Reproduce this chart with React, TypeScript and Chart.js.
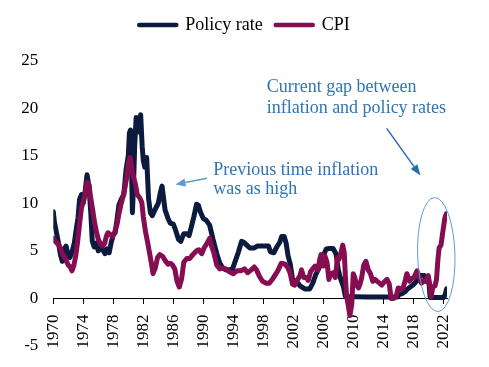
import React, { useEffect, useRef } from 'react';
import { Chart, registerables } from 'chart.js';

Chart.register(...registerables);

// ---------- data ----------
const policyYears = [
  1970.0, 1970.15, 1970.4, 1970.7, 1970.95, 1971.2, 1971.45, 1971.7, 1971.95, 1972.2,
  1972.5, 1972.8, 1973.05, 1973.3, 1973.5, 1973.75, 1974.0, 1974.25, 1974.5, 1974.75,
  1975.0, 1975.2, 1975.45, 1975.75, 1976.0, 1976.3, 1976.6, 1976.9, 1977.15, 1977.45,
  1977.7, 1978.0, 1978.25, 1978.5, 1978.75, 1979.05, 1979.4, 1979.7, 1980.0, 1980.15,
  1980.3, 1980.45, 1980.55, 1980.7, 1980.85, 1981.05, 1981.25, 1981.45, 1981.65, 1981.85,
  1982.0, 1982.2, 1982.45, 1982.7, 1982.95, 1983.2, 1983.55, 1984.0, 1984.3, 1984.5,
  1984.9, 1985.3, 1985.6, 1986.0, 1986.3, 1986.7, 1987.0, 1987.4, 1987.8, 1988.1,
  1988.4, 1988.75, 1989.1, 1989.35, 1989.6, 1990.0, 1990.4, 1990.85, 1991.3, 1991.8,
  1992.2, 1992.6, 1993.0, 1993.5, 1993.9, 1994.3, 1994.7, 1995.1, 1995.4, 1995.8,
  1996.2, 1996.8, 1997.2, 1997.6, 1998.2, 1998.7, 1998.95, 1999.4, 1999.8, 2000.2,
  2000.45, 2000.8, 2001.05, 2001.3, 2001.6, 2001.9, 2002.5, 2002.95, 2003.55, 2004.2,
  2004.6, 2005.0, 2005.5, 2005.9, 2006.4, 2006.8, 2007.3, 2007.7, 2008.0, 2008.3,
  2008.7, 2008.95, 2012.0, 2015.9, 2016.1, 2016.5, 2016.9, 2017.25, 2017.6, 2017.95,
  2018.3, 2018.7, 2019.0, 2019.5, 2019.8, 2020.1, 2020.25, 2022.05, 2022.25, 2022.45,
];
const policyRate = [
  9.1, 8.0, 7.0, 5.8, 4.6, 3.9, 5.2, 5.5, 4.6, 4.3,
  4.9, 5.8, 7.2, 8.5, 10.4, 10.9, 10.0, 11.3, 13.0, 11.8,
  9.0, 6.0, 5.4, 5.8, 5.0, 5.3, 5.1, 4.7, 5.2, 4.8,
  5.8, 6.7, 6.9, 8.3, 9.8, 10.4, 10.9, 13.5, 15.0, 17.4,
  17.7, 13.0, 9.0, 12.0, 16.0, 19.0, 18.2, 17.5, 19.3, 16.0,
  14.5, 13.8, 14.8, 10.5, 9.0, 8.7, 9.3, 10.0, 11.2, 11.8,
  9.3, 8.4, 7.9, 7.8, 7.2, 6.2, 6.0, 6.8, 6.8, 6.6,
  7.5, 8.6, 9.9, 9.8, 9.1, 8.4, 8.2, 7.7, 6.2, 4.7,
  3.7, 3.2, 3.0, 3.0, 3.1, 4.0, 4.9, 6.0, 5.9, 5.6,
  5.3, 5.3, 5.5, 5.5, 5.5, 5.5, 4.9, 4.8, 5.4, 5.9,
  6.5, 6.5, 5.8, 4.5, 3.6, 2.0, 1.7, 1.3, 1.0, 1.0,
  1.6, 2.5, 3.3, 4.3, 5.2, 5.25, 5.25, 4.7, 3.0, 2.1,
  1.2, 0.2, 0.15, 0.15, 0.4, 0.5, 0.7, 1.0, 1.2, 1.4,
  1.7, 2.0, 2.4, 2.4, 1.8, 1.6, 0.1, 0.1, 0.4, 1.0,
];

const cpiYears = [
  1970.0, 1970.25, 1970.5, 1970.75, 1971.0, 1971.25, 1971.5, 1971.75, 1972.0, 1972.25,
  1972.5, 1972.75, 1973.0, 1973.25, 1973.5, 1973.75, 1974.0, 1974.25, 1974.5, 1974.75,
  1975.0, 1975.25, 1975.5, 1975.75, 1976.0, 1976.3, 1976.6, 1976.85, 1977.1, 1977.3,
  1977.6, 1977.9, 1978.2, 1978.5, 1978.75, 1979.0, 1979.3, 1979.55, 1979.8, 1980.05,
  1980.25, 1980.5, 1980.75, 1980.95, 1981.2, 1981.5, 1981.8, 1982.0, 1982.3, 1982.6,
  1982.9, 1983.1, 1983.3, 1983.6, 1983.9, 1984.2, 1984.6, 1984.9, 1985.3, 1985.6,
  1985.9, 1986.2, 1986.5, 1986.8, 1987.1, 1987.4, 1987.8, 1988.2, 1988.6, 1989.1,
  1989.4, 1989.8, 1990.1, 1990.5, 1990.85, 1991.1, 1991.4, 1991.8, 1992.2, 1992.6,
  1993.0, 1993.5, 1994.0, 1994.5, 1995.0, 1995.5, 1995.9, 1996.4, 1996.8, 1997.1,
  1997.5, 1997.9, 1998.4, 1998.8, 1999.3, 1999.7, 2000.0, 2000.4, 2000.9, 2001.3,
  2001.6, 2001.9, 2002.2, 2002.6, 2002.9, 2003.1, 2003.4, 2003.7, 2004.0, 2004.3,
  2004.6, 2004.9, 2005.3, 2005.5, 2005.7, 2006.0, 2006.2, 2006.5, 2006.75, 2007.0,
  2007.3, 2007.6, 2007.9, 2008.1, 2008.4, 2008.6, 2008.8, 2008.95, 2009.1, 2009.3,
  2009.55, 2009.8, 2010.0, 2010.2, 2010.45, 2010.7, 2010.9, 2011.1, 2011.4, 2011.7,
  2012.0, 2012.3, 2012.6, 2012.9, 2013.2, 2013.5, 2013.8, 2014.2, 2014.5, 2014.8,
  2015.05, 2015.4, 2015.7, 2016.0, 2016.3, 2016.6, 2016.9, 2017.15, 2017.5, 2017.8,
  2018.1, 2018.5, 2018.8, 2019.1, 2019.4, 2019.7, 2020.0, 2020.2, 2020.4, 2020.6,
  2020.9, 2021.1, 2021.3, 2021.45, 2021.7, 2021.85, 2022.0, 2022.2, 2022.4,
];
const cpiRate = [
  6.3, 6.0, 5.8, 5.6, 5.2, 4.6, 4.4, 3.9, 3.5, 3.3,
  2.9, 3.5, 4.5, 6.0, 7.8, 9.5, 10.2, 11.0, 12.2, 12.0,
  10.5, 9.3, 8.0, 7.0, 6.2, 5.7, 5.5, 5.8, 6.6, 6.9,
  6.7, 6.5, 7.0, 7.8, 8.9, 9.8, 10.7, 11.6, 12.8, 14.3,
  14.8, 13.4, 12.6, 12.0, 10.9, 10.6, 10.1, 8.6, 7.0, 5.8,
  4.5, 3.6, 2.6, 3.2, 4.3, 4.6, 4.4, 4.0, 3.6, 3.7,
  3.5, 3.1, 1.8, 1.2, 2.0, 3.8, 4.2, 4.2, 4.6, 5.0,
  5.1, 4.7, 5.3, 5.8, 6.3, 5.5, 4.8, 3.5, 3.1, 3.2,
  3.1, 2.8, 2.6, 2.9, 2.9, 3.1, 2.7, 3.0, 3.3, 3.0,
  2.3, 1.8, 1.6, 1.6, 2.1, 2.6, 3.0, 3.7, 3.6, 3.2,
  2.6, 1.5, 1.4, 2.0, 2.4, 3.0, 2.2, 2.2, 1.9, 2.8,
  3.1, 3.4, 3.0, 4.0, 4.6, 3.4, 4.5, 3.8, 2.0, 2.6,
  2.7, 2.2, 4.3, 4.1, 4.9, 5.6, 4.8, 2.3, 0.3, -0.6,
  -1.8, -0.6, 2.6, 2.2, 1.4, 1.1, 1.5, 2.1, 3.5, 3.9,
  3.0, 2.6, 1.8, 2.0, 1.8, 1.6, 1.4, 1.8, 2.0, 1.5,
  0.0, 0.0, 0.2, 1.1, 1.0, 1.0, 1.8, 2.6, 1.8, 2.1,
  2.2, 2.9, 2.3, 1.6, 1.8, 1.8, 2.4, 1.5, 0.2, 1.2,
  1.3, 2.0, 4.2, 5.3, 5.6, 6.5, 7.3, 8.4, 8.9,
];

const xTickYears = [1970, 1974, 1978, 1982, 1986, 1990, 1994, 1998, 2002, 2006, 2010, 2014, 2018, 2022];
const seriesLabels = ['Policy rate', 'CPI'];
const gapNoteLines = ['Current gap between', 'inflation and policy rates'];
const prevNoteLines = ['Previous time inflation', 'was as high'];

// ---------- styles ----------
const FONT = "'Liberation Serif', 'Times New Roman', serif";
const policyColor = '#0c1a3d';
const cpiColor = '#870d52';
const noteColor = '#2e75b6';
const lightArrowColor = '#5b9bd5';
const darkArrowColor = '#2a6ab2';
const ellipseColor = '#5b9bd5';
const LINE_W = 5;

// annotation anchors in data units (year, value)
const gapNote = { x: 1998.45, y: 21.64, gap: 20.6 };
const prevNote = { x: 1991.33, y: 12.97, gap: 19.2 };
const gapArrow = { x1: 2014.45, y1: 17.87, x2: 2018.96, y2: 12.91 };
const prevArrow = { x1: 1990.49, y1: 12.63, x2: 1986.29, y2: 11.97 };
const gapEllipse = { x: 2021.07, y: 4.61, rx: 2.49, ry: 5.99 };

function drawArrow(ctx: CanvasRenderingContext2D, x1: number, y1: number, x2: number, y2: number,
  color: string, width: number, headLen: number, headWidth: number) {
  const ang = Math.atan2(y2 - y1, x2 - x1);
  const bx = x2 - headLen * Math.cos(ang);
  const by = y2 - headLen * Math.sin(ang);
  ctx.strokeStyle = color;
  ctx.lineWidth = width;
  ctx.beginPath();
  ctx.moveTo(x1, y1);
  ctx.lineTo(bx, by);
  ctx.stroke();
  ctx.fillStyle = color;
  ctx.beginPath();
  ctx.moveTo(x2, y2);
  ctx.lineTo(bx + (headWidth / 2) * Math.sin(ang), by - (headWidth / 2) * Math.cos(ang));
  ctx.lineTo(bx - (headWidth / 2) * Math.sin(ang), by + (headWidth / 2) * Math.cos(ang));
  ctx.closePath();
  ctx.fill();
}

const notesPlugin = {
  id: 'notes',
  afterDraw(chart: any) {
    const { ctx } = chart;
    const xs = chart.scales.x;
    const ys = chart.scales.y;
    ctx.save();
    ctx.font = `18px ${FONT}`;
    ctx.fillStyle = noteColor;
    ctx.textAlign = 'left';
    ctx.textBaseline = 'alphabetic';
    gapNoteLines.forEach((t, i) => {
      ctx.fillText(t, xs.getPixelForValue(gapNote.x), ys.getPixelForValue(gapNote.y) + i * gapNote.gap);
    });
    prevNoteLines.forEach((t, i) => {
      ctx.fillText(t, xs.getPixelForValue(prevNote.x), ys.getPixelForValue(prevNote.y) + i * prevNote.gap);
    });
    drawArrow(ctx,
      xs.getPixelForValue(gapArrow.x1), ys.getPixelForValue(gapArrow.y1),
      xs.getPixelForValue(gapArrow.x2), ys.getPixelForValue(gapArrow.y2),
      darkArrowColor, 1.5, 11, 8);
    drawArrow(ctx,
      xs.getPixelForValue(prevArrow.x1), ys.getPixelForValue(prevArrow.y1),
      xs.getPixelForValue(prevArrow.x2), ys.getPixelForValue(prevArrow.y2),
      lightArrowColor, 1.5, 10, 8);
    const cx = xs.getPixelForValue(gapEllipse.x);
    const cy = ys.getPixelForValue(gapEllipse.y);
    const rx = Math.abs(xs.getPixelForValue(gapEllipse.x + gapEllipse.rx) - cx);
    const ry = Math.abs(ys.getPixelForValue(gapEllipse.y + gapEllipse.ry) - cy);
    ctx.strokeStyle = ellipseColor;
    ctx.lineWidth = 1;
    ctx.beginPath();
    ctx.ellipse(cx, cy, rx, ry, -0.03, 0, Math.PI * 2);
    ctx.stroke();
    ctx.restore();
  },
};

// adds room under the legend row and nudges the row down a little
const legendGapPlugin = {
  id: 'legendGap',
  afterInit(chart: any) {
    const lg = chart.legend;
    if (!lg) return;
    const fit = lg.fit.bind(lg);
    lg.fit = () => {
      fit();
      lg.height += 19.5;
    };
  },
  afterLayout(chart: any) {
    if (chart.legend) chart.legend.top += 3;
  },
};

export default function App() {
  const ref = useRef<HTMLCanvasElement>(null);

  useEffect(() => {
    const canvas = ref.current;
    if (!canvas) return;
    Chart.defaults.font.family = FONT;
    Chart.defaults.color = '#000';

    const chart = new Chart(canvas, {
      type: 'line',
      data: {
        datasets: [
          {
            label: seriesLabels[0],
            data: policyYears.map((x, i) => ({ x, y: policyRate[i] })),
            borderColor: policyColor,
            backgroundColor: policyColor,
            borderWidth: LINE_W,
            pointRadius: 0,
            tension: 0,
            borderJoinStyle: 'round',
            borderCapStyle: 'round',
            order: 1,
          },
          {
            label: seriesLabels[1],
            data: cpiYears.map((x, i) => ({ x, y: cpiRate[i] })),
            borderColor: cpiColor,
            backgroundColor: cpiColor,
            borderWidth: LINE_W,
            pointRadius: 0,
            tension: 0,
            borderJoinStyle: 'round',
            borderCapStyle: 'round',
            order: 0,
          },
        ],
      },
      options: {
        animation: false,
        responsive: true,
        maintainAspectRatio: false,
        layout: { padding: { top: 0, left: 0, right: 0, bottom: 21 } },
        plugins: {
          tooltip: { enabled: false },
          legend: {
            display: true,
            position: 'top',
            labels: {
              font: { size: 18, family: FONT },
              color: '#000',
              usePointStyle: true,
              pointStyle: 'line',
              pointStyleWidth: 37,
              padding: 13,
              generateLabels: (ch: any) =>
                ch.data.datasets.map((ds: any, i: number) => ({
                  text: ds.label,
                  fillStyle: ds.borderColor,
                  strokeStyle: ds.borderColor,
                  lineWidth: 4.5,
                  lineCap: 'round',
                  pointStyle: 'line',
                  hidden: false,
                  fontColor: '#000',
                  datasetIndex: i,
                })),
            },
          },
        },
        scales: {
          x: {
            type: 'linear',
            min: 1970,
            max: 2022.5,
            position: { y: 0 } as any,
            border: { display: true, color: '#000', width: 1 },
            grid: {
              display: true,
              drawOnChartArea: false,
              drawTicks: true,
              tickLength: 5,
              color: '#000',
              lineWidth: 1,
            },
            afterBuildTicks: (s: any) => {
              s.ticks = xTickYears.map((v) => ({ value: v }));
            },
            ticks: {
              autoSkip: false,
              minRotation: 90,
              maxRotation: 90,
              padding: 11,
              color: '#000',
              font: { size: 17, family: FONT },
              callback: (v: any) => String(v),
            },
          },
          y: {
            type: 'linear',
            position: 'left',
            min: -5,
            max: 25,
            border: { display: false },
            grid: { display: false, drawTicks: false },
            afterFit: (s: any) => {
              s.width = 53.3;
              s.paddingTop = 0;
              s.paddingBottom = 0;
            },
            ticks: {
              stepSize: 5,
              padding: 15,
              color: '#000',
              font: { size: 17, family: FONT },
            },
          },
          yRight: {
            type: 'linear',
            position: 'right',
            display: true,
            border: { display: false },
            grid: { display: false, drawTicks: false },
            ticks: { display: false },
            afterFit: (s: any) => {
              s.width = 42;
            },
          },
        },
      },
      plugins: [notesPlugin, legendGapPlugin],
    } as any);

    return () => chart.destroy();
  }, []);

  return (
    <div style={{ position: 'fixed', left: 0, top: 0, width: 489, height: 367 }}>
      <canvas ref={ref} />
    </div>
  );
}
